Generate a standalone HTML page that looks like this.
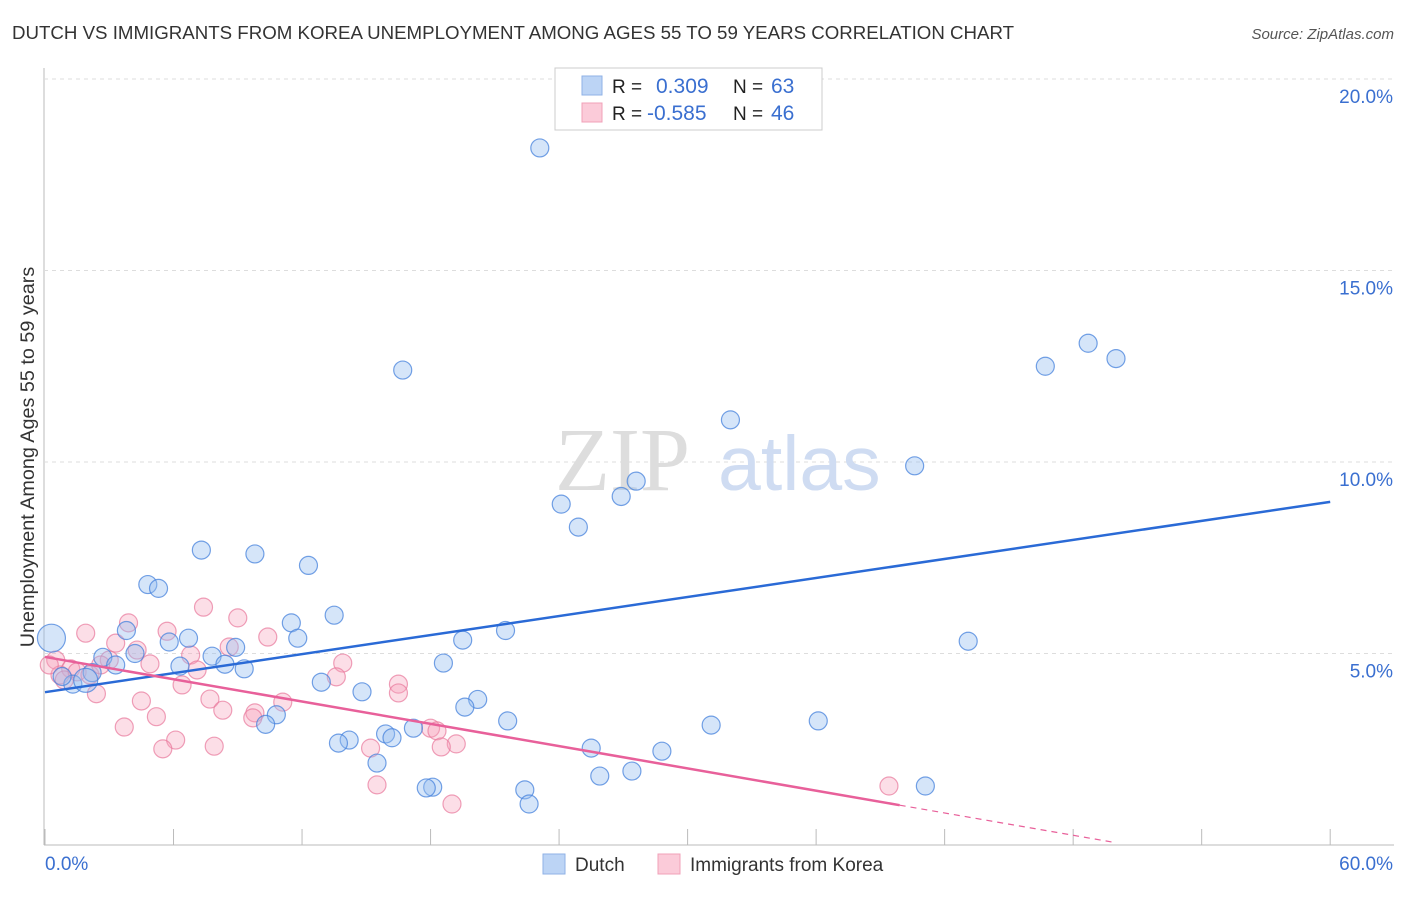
<!DOCTYPE html>
<html><head><meta charset="utf-8"><style>
body{margin:0;background:#fff;font-family:"Liberation Sans",sans-serif}
</style></head><body>
<svg width="1406" height="892" viewBox="0 0 1406 892" xmlns="http://www.w3.org/2000/svg" font-family="Liberation Sans, sans-serif">
<text x="12" y="39" font-size="18.7" fill="#333">DUTCH VS IMMIGRANTS FROM KOREA UNEMPLOYMENT AMONG AGES 55 TO 59 YEARS CORRELATION CHART</text>
<text x="1394" y="39" font-size="15" fill="#555" text-anchor="end" font-style="italic">Source: ZipAtlas.com</text>
<g id="grid"></g>
<text x="555" y="490" font-size="90" fill="#ddd" font-family="Liberation Serif, serif">ZIP</text>
<text x="718" y="490" font-size="77" fill="#cfdcf2">atlas</text>
<g id="points"></g>
<g id="lines"></g>
<text transform="translate(34,457) rotate(-90)" font-size="19.8" fill="#333" text-anchor="middle">Unemployment Among Ages 55 to 59 years</text>
<g>
<rect x="555" y="68" width="267" height="62" fill="#fff" stroke="#ccc"/>
<rect x="582" y="76" width="20" height="19" fill="#bcd4f5" stroke="#8fb2e6"/>
<rect x="582" y="103" width="20" height="19" fill="#fbcbd9" stroke="#f0a0b8"/>
<text x="612" y="93" font-size="19" fill="#222">R = </text><text x="656" y="93" font-size="21" fill="#3a6fd0">0.309</text>
<text x="733" y="93" font-size="19" fill="#222">N = </text><text x="771" y="93" font-size="21" fill="#3a6fd0">63</text>
<text x="612" y="120" font-size="19" fill="#222">R = </text><text x="647" y="120" font-size="21" fill="#3a6fd0">-0.585</text>
<text x="733" y="120" font-size="19" fill="#222">N = </text><text x="771" y="120" font-size="21" fill="#3a6fd0">46</text>
</g>
<g>
<rect x="543" y="854" width="22" height="20" fill="#bcd4f5" stroke="#8fb2e6"/>
<text x="575" y="871" font-size="19" fill="#333">Dutch</text>
<rect x="658" y="854" width="22" height="20" fill="#fbcbd9" stroke="#f0a0b8"/>
<text x="690" y="871" font-size="19" fill="#333">Immigrants from Korea</text>
</g>
</svg>
<script>
const xTicks=[0,6,12,18,24,30,36,42,48,54,60];
const yTicks=[5,10,15,20];
const dutchX=[23.1,16.7,48.7,50.0,46.7,32.0,40.6,27.6,26.9,24.1,24.9,7.3,9.8,12.3,4.8,5.3,13.5,11.5,3.8,11.8,6.7,5.8,19.5,21.5,43.1,0.3,8.9,7.8,4.2,2.7,18.6,8.4,9.3,6.3,3.3,2.2,1.3,0.8,12.9,14.8,20.2,19.6,10.8,10.3,21.6,31.1,36.1,17.2,15.9,16.2,14.2,13.7,25.5,28.8,15.5,25.9,27.4,18.1,17.8,22.4,22.6,41.1,1.9];
const dutchY=[18.2,12.4,13.1,12.7,12.5,11.1,9.9,9.5,9.1,8.9,8.3,7.7,7.6,7.3,6.8,6.7,6.0,5.8,5.6,5.4,5.4,5.3,5.35,5.6,5.32,5.4,5.16,4.93,5.0,4.9,4.75,4.72,4.6,4.67,4.7,4.5,4.2,4.4,4.25,4.0,3.8,3.6,3.4,3.15,3.24,3.13,3.24,3.05,2.9,2.8,2.74,2.66,2.53,2.45,2.14,1.8,1.93,1.51,1.49,1.44,1.07,1.54,4.3];
const koreaX=[0.5,1.9,3.9,3.3,5.7,7.4,9.0,10.4,6.8,4.9,3.0,8.6,4.3,7.1,6.4,2.4,4.5,7.7,8.3,9.8,11.1,13.9,13.6,16.5,16.5,5.2,3.7,9.7,6.1,5.5,7.9,18.0,18.3,19.2,18.5,15.2,15.5,19.0,39.4,1.2,0.7,1.5,2.1,0.2,0.9,2.6];
const koreaY=[4.83,5.53,5.8,5.27,5.58,6.21,5.93,5.43,4.96,4.73,4.83,5.17,5.09,4.57,4.18,3.95,3.76,3.81,3.52,3.45,3.73,4.75,4.39,4.2,3.97,3.35,3.08,3.32,2.74,2.51,2.58,3.05,2.98,2.64,2.56,2.53,1.57,1.07,1.54,4.6,4.44,4.52,4.44,4.7,4.31,4.7];
const blueLine=[3.99,8.96];
const pinkLine=[4.91,-0.097,39.9,50.0];
const X=v=>45+v*21.42, Y=v=>845-v*38.3;
const ns="http://www.w3.org/2000/svg";
function mk(t,a,p){const e=document.createElementNS(ns,t);for(const k in a)e.setAttribute(k,a[k]);p.appendChild(e);return e;}
const grid=document.getElementById('grid');
let ax=mk('line',{x1:44,y1:68,x2:44,y2:845,stroke:'#bbb'},grid);

let bx=mk('line',{x1:44,y1:845,x2:1394,y2:845,stroke:'#bbb'},grid);

yTicks.forEach(v=>{
 const g=mk('line',{x1:44,y1:Y(v),x2:1394,y2:Y(v),stroke:'#ddd','stroke-dasharray':'4,4'},grid);
 
 const t=mk('text',{x:1393,y:Y(v)+24,'font-size':19,fill:'#3a6fd0','text-anchor':'end'},grid);t.textContent=v.toFixed(1)+'%';
 
});
xTicks.forEach(v=>{
 const l=mk('line',{x1:X(v),y1:829,x2:X(v),y2:845,stroke:'#bbb'},grid);
 
});
let t0=mk('text',{x:45,y:870,'font-size':19,fill:'#3a6fd0'},grid);t0.textContent='0.0%';

let t1=mk('text',{x:1393,y:870,'font-size':19,fill:'#3a6fd0','text-anchor':'end'},grid);t1.textContent='60.0%';

const pts=document.getElementById('points');
koreaX.forEach((x,i)=>{const c=mk('circle',{cx:X(x),cy:Y(koreaY[i]),r:9,fill:'rgba(245,160,185,0.35)',stroke:'rgba(232,120,155,0.7)','stroke-width':1.2},pts);
 });
dutchX.forEach((x,i)=>{const c=mk('circle',{cx:X(x),cy:Y(dutchY[i]),r:(i==25?14:(i==62?12:9)),fill:'rgba(150,190,240,0.4)',stroke:'rgba(70,130,220,0.75)','stroke-width':1.2},pts);
 });
const ln=document.getElementById('lines');
let b=mk('line',{x1:X(0),y1:Y(blueLine[0]),x2:X(60),y2:Y(blueLine[1]),stroke:'#2a6ad6','stroke-width':2.5},ln);

let p=mk('line',{x1:X(0),y1:Y(pinkLine[0]),x2:X(pinkLine[2]),y2:Y(pinkLine[0]+pinkLine[1]*pinkLine[2]),stroke:'#e8609a','stroke-width':2.5},ln);

let pd=mk('line',{x1:X(pinkLine[2]),y1:Y(pinkLine[0]+pinkLine[1]*pinkLine[2]),x2:X(pinkLine[3]),y2:Y(pinkLine[0]+pinkLine[1]*pinkLine[3]),stroke:'#e8609a','stroke-width':1.2,'stroke-dasharray':'6,5'},ln);

</script>
</body></html>
